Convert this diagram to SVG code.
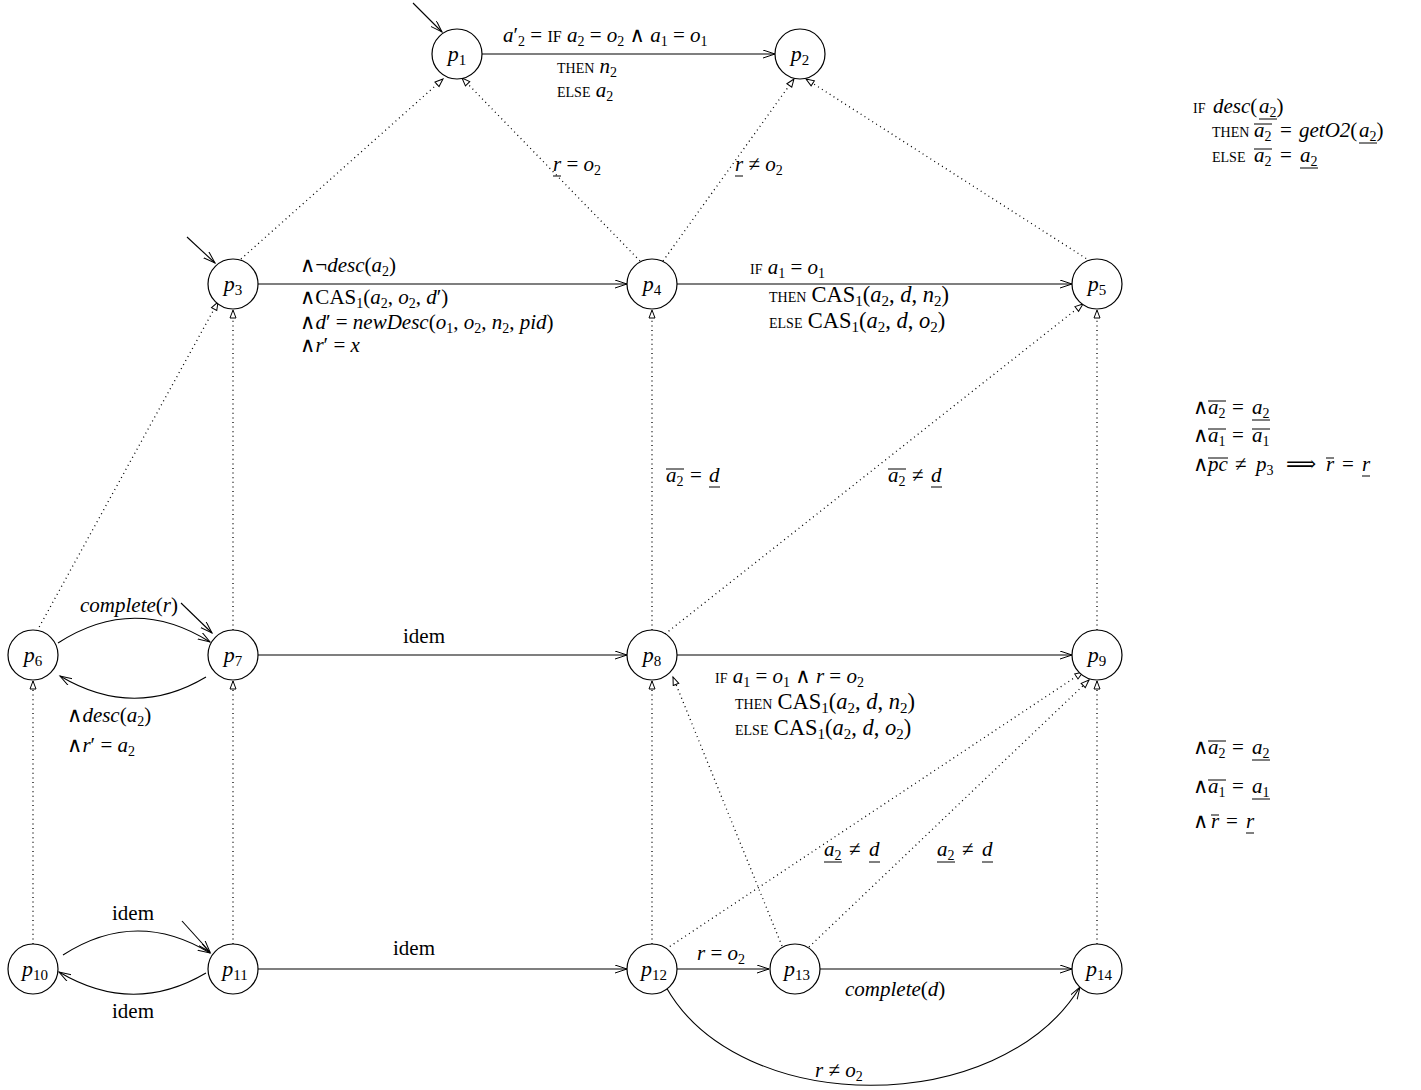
<svg xmlns="http://www.w3.org/2000/svg" width="1421" height="1090" viewBox="0 0 1421 1090">
<style>
text{font-family:"Liberation Serif","DejaVu Serif",serif;font-size:21px;fill:#000}
.i{font-style:italic}
.sb{font-size:14px;baseline-shift:-4px;font-style:normal}
.sc{font-size:14px}
.sc1{font-size:16px}
.big{font-size:22.5px}
.big .sb{font-size:15px;baseline-shift:-4px}
.nl{font-size:22px}
.nl .sb{font-size:15px}
.n{fill:#fff;stroke:#000;stroke-width:1.2}
.e{fill:none;stroke:#000;stroke-width:1.1;marker-end:url(#v)}
.d{fill:none;stroke:#000;stroke-width:1.3;stroke-dasharray:1 3.6;marker-end:url(#tri)}
.ln{stroke:#000;stroke-width:1}
</style>
<defs>
<marker id="v" markerWidth="14" markerHeight="10" refX="12" refY="4" orient="auto" markerUnits="userSpaceOnUse"><path d="M0,0 L12,4 L0,8" fill="none" stroke="#000" stroke-width="1"/></marker>
<marker id="tri" markerWidth="12" markerHeight="10" refX="9" refY="4" orient="auto" markerUnits="userSpaceOnUse"><path d="M1,1 L9,4 L1,7 Z" fill="#fff" stroke="#000" stroke-width="1"/></marker>
</defs>
<rect width="1421" height="1090" fill="#fff"/>
<g id="connectors">
<path class="e" d="M482,54 L775,54"/>
<path class="e" d="M258,284 L627,284"/>
<path class="e" d="M677,284 L1072,284"/>
<path class="e" d="M258,655 L627,655"/>
<path class="e" d="M677,655 L1072,655"/>
<path class="e" d="M258,969 L627,969"/>
<path class="e" d="M677,969 L769,969"/>
<path class="e" d="M820,969 L1072,969"/>
<path class="e" d="M666,987 C740,1118 1000,1118 1080,987"/>
<path class="e" d="M58,643 Q134,594 210,642"/>
<path class="e" d="M206,677 Q134,720 60,676"/>
<path class="e" d="M63,955 Q136,908 210,953"/>
<path class="e" d="M206,973 Q133,1016 59,972"/>
<path class="e" d="M413,3 L442,32"/>
<path class="e" d="M187,237 L215,263"/>
<path class="e" d="M181,603 L212,633"/>
<path class="e" d="M182,921 L210,952"/>
<path class="d" d="M241,259 L443,79"/>
<path class="d" d="M640,261 L462,78"/>
<path class="d" d="M663,261 L794,79"/>
<path class="d" d="M1090,261 L806,79"/>
<path class="d" d="M37,631 L218,302"/>
<path class="d" d="M233,630 L233,310"/>
<path class="d" d="M652,630 L652,310"/>
<path class="d" d="M665,634 L1083,304"/>
<path class="d" d="M1097,630 L1097,310"/>
<path class="d" d="M33,944 L33,681"/>
<path class="d" d="M233,944 L233,681"/>
<path class="d" d="M652,944 L652,681"/>
<path class="d" d="M666,949 L1083,672"/>
<path class="d" d="M782,946 L673,677"/>
<path class="d" d="M809,947 L1089,680"/>
<path class="d" d="M1097,944 L1097,681"/>
</g>
<g id="p1"><circle class="n" cx="457" cy="54" r="25"/><text class="nl" x="457" y="61" text-anchor="middle"><tspan class="i">p</tspan><tspan class="sb">1</tspan></text></g>
<g id="p2"><circle class="n" cx="800" cy="54" r="25"/><text class="nl" x="800" y="61" text-anchor="middle"><tspan class="i">p</tspan><tspan class="sb">2</tspan></text></g>
<g id="p3"><circle class="n" cx="233" cy="284" r="25"/><text class="nl" x="233" y="291" text-anchor="middle"><tspan class="i">p</tspan><tspan class="sb">3</tspan></text></g>
<g id="p4"><circle class="n" cx="652" cy="284" r="25"/><text class="nl" x="652" y="291" text-anchor="middle"><tspan class="i">p</tspan><tspan class="sb">4</tspan></text></g>
<g id="p5"><circle class="n" cx="1097" cy="284" r="25"/><text class="nl" x="1097" y="291" text-anchor="middle"><tspan class="i">p</tspan><tspan class="sb">5</tspan></text></g>
<g id="p6"><circle class="n" cx="33" cy="655" r="25"/><text class="nl" x="33" y="662" text-anchor="middle"><tspan class="i">p</tspan><tspan class="sb">6</tspan></text></g>
<g id="p7"><circle class="n" cx="233" cy="655" r="25"/><text class="nl" x="233" y="662" text-anchor="middle"><tspan class="i">p</tspan><tspan class="sb">7</tspan></text></g>
<g id="p8"><circle class="n" cx="652" cy="655" r="25"/><text class="nl" x="652" y="662" text-anchor="middle"><tspan class="i">p</tspan><tspan class="sb">8</tspan></text></g>
<g id="p9"><circle class="n" cx="1097" cy="655" r="25"/><text class="nl" x="1097" y="662" text-anchor="middle"><tspan class="i">p</tspan><tspan class="sb">9</tspan></text></g>
<g id="p10"><circle class="n" cx="33" cy="969" r="25"/><text class="nl" x="35" y="976" text-anchor="middle"><tspan class="i">p</tspan><tspan class="sb">10</tspan></text></g>
<g id="p11"><circle class="n" cx="233" cy="969" r="25"/><text class="nl" x="235" y="976" text-anchor="middle"><tspan class="i">p</tspan><tspan class="sb">11</tspan></text></g>
<g id="p12"><circle class="n" cx="652" cy="969" r="25"/><text class="nl" x="654" y="976" text-anchor="middle"><tspan class="i">p</tspan><tspan class="sb">12</tspan></text></g>
<g id="p13"><circle class="n" cx="795" cy="969" r="25"/><text class="nl" x="797" y="976" text-anchor="middle"><tspan class="i">p</tspan><tspan class="sb">13</tspan></text></g>
<g id="p14"><circle class="n" cx="1097" cy="969" r="25"/><text class="nl" x="1099" y="976" text-anchor="middle"><tspan class="i">p</tspan><tspan class="sb">14</tspan></text></g>
<g id="labels">
<text x="503" y="42"><tspan class="i">a</tspan>′<tspan class="sb">2</tspan> = <tspan class="sc1">IF</tspan> <tspan class="i">a</tspan><tspan class="sb">2</tspan> = <tspan class="i">o</tspan><tspan class="sb">2</tspan> ∧ <tspan class="i">a</tspan><tspan class="sb">1</tspan> = <tspan class="i">o</tspan><tspan class="sb">1</tspan></text>
<text x="557" y="73"><tspan class="sc">THEN</tspan> <tspan class="i">n</tspan><tspan class="sb">2</tspan></text>
<text x="557" y="97"><tspan class="sc">ELSE</tspan> <tspan class="i">a</tspan><tspan class="sb">2</tspan></text>
<text x="553" y="171"><tspan class="i">r</tspan> = <tspan class="i">o</tspan><tspan class="sb">2</tspan></text>
<line class="ln" x1="553" y1="176" x2="561" y2="176"/>
<text x="735" y="171"><tspan class="i">r</tspan> ≠ <tspan class="i">o</tspan><tspan class="sb">2</tspan></text>
<line class="ln" x1="735" y1="176" x2="743" y2="176"/>
<text x="300" y="272">∧¬<tspan class="i">desc</tspan>(<tspan class="i">a</tspan><tspan class="sb">2</tspan>)</text>
<text x="300" y="304">∧CAS<tspan class="sb">1</tspan>(<tspan class="i">a</tspan><tspan class="sb">2</tspan>, <tspan class="i">o</tspan><tspan class="sb">2</tspan>, <tspan class="i">d</tspan>′)</text>
<text x="300" y="329">∧<tspan class="i">d</tspan>′ = <tspan class="i">newDesc</tspan>(<tspan class="i">o</tspan><tspan class="sb">1</tspan>, <tspan class="i">o</tspan><tspan class="sb">2</tspan>, <tspan class="i">n</tspan><tspan class="sb">2</tspan>, <tspan class="i">pid</tspan>)</text>
<text x="300" y="352">∧<tspan class="i">r</tspan>′ = <tspan class="i">x</tspan></text>
<text x="750" y="274"><tspan class="sc">IF</tspan> <tspan class="i">a</tspan><tspan class="sb">1</tspan> = <tspan class="i">o</tspan><tspan class="sb">1</tspan></text>
<text x="769" y="302"><tspan class="sc">THEN</tspan> <tspan class="big">CAS<tspan class="sb">1</tspan>(<tspan class="i">a</tspan><tspan class="sb">2</tspan>, <tspan class="i">d</tspan>, <tspan class="i">n</tspan><tspan class="sb">2</tspan>)</tspan></text>
<text x="769" y="328"><tspan class="sc">ELSE</tspan> <tspan class="big">CAS<tspan class="sb">1</tspan>(<tspan class="i">a</tspan><tspan class="sb">2</tspan>, <tspan class="i">d</tspan>, <tspan class="i">o</tspan><tspan class="sb">2</tspan>)</tspan></text>
<text y="482"><tspan x="666" class="i">a</tspan><tspan class="sb">2</tspan><tspan x="690">=</tspan><tspan x="709" class="i">d</tspan></text>
<line class="ln" x1="666" y1="469" x2="684" y2="469"/><line class="ln" x1="709" y1="487" x2="720" y2="487"/>
<text y="482"><tspan x="888" class="i">a</tspan><tspan class="sb">2</tspan><tspan x="912">≠</tspan><tspan x="931" class="i">d</tspan></text>
<line class="ln" x1="888" y1="469" x2="906" y2="469"/><line class="ln" x1="931" y1="487" x2="942" y2="487"/>
<text x="80" y="612"><tspan class="i">complete</tspan>(<tspan class="i">r</tspan>)</text>
<text x="403" y="643">idem</text>
<text x="715" y="683"><tspan class="sc">IF</tspan> <tspan class="i">a</tspan><tspan class="sb">1</tspan> = <tspan class="i">o</tspan><tspan class="sb">1</tspan> ∧ <tspan class="i">r</tspan> = <tspan class="i">o</tspan><tspan class="sb">2</tspan></text>
<text x="735" y="709"><tspan class="sc">THEN</tspan> <tspan class="big">CAS<tspan class="sb">1</tspan>(<tspan class="i">a</tspan><tspan class="sb">2</tspan>, <tspan class="i">d</tspan>, <tspan class="i">n</tspan><tspan class="sb">2</tspan>)</tspan></text>
<text x="735" y="735"><tspan class="sc">ELSE</tspan> <tspan class="big">CAS<tspan class="sb">1</tspan>(<tspan class="i">a</tspan><tspan class="sb">2</tspan>, <tspan class="i">d</tspan>, <tspan class="i">o</tspan><tspan class="sb">2</tspan>)</tspan></text>
<text x="67" y="722">∧<tspan class="i">desc</tspan>(<tspan class="i">a</tspan><tspan class="sb">2</tspan>)</text>
<text x="67" y="752">∧<tspan class="i">r</tspan>′ = <tspan class="i">a</tspan><tspan class="sb">2</tspan></text>
<text y="856"><tspan x="824" class="i">a</tspan><tspan class="sb">2</tspan><tspan x="849">≠</tspan><tspan x="869" class="i">d</tspan></text>
<line class="ln" x1="824" y1="862" x2="842" y2="862"/><line class="ln" x1="869" y1="862" x2="880" y2="862"/>
<text y="856"><tspan x="937" class="i">a</tspan><tspan class="sb">2</tspan><tspan x="962">≠</tspan><tspan x="982" class="i">d</tspan></text>
<line class="ln" x1="937" y1="862" x2="955" y2="862"/><line class="ln" x1="982" y1="862" x2="993" y2="862"/>
<text x="112" y="920">idem</text>
<text x="112" y="1018">idem</text>
<text x="393" y="955">idem</text>
<text x="697" y="960"><tspan class="i">r</tspan> = <tspan class="i">o</tspan><tspan class="sb">2</tspan></text>
<text x="845" y="996"><tspan class="i">complete</tspan>(<tspan class="i">d</tspan>)</text>
<text x="815" y="1077"><tspan class="i">r</tspan> ≠ <tspan class="i">o</tspan><tspan class="sb">2</tspan></text>
</g>
<g id="notes">
<text y="113"><tspan x="1193" class="sc">IF</tspan><tspan x="1213" class="i">desc</tspan>(<tspan x="1259" class="i">a</tspan><tspan class="sb">2</tspan>)</text>
<line class="ln" x1="1259" y1="119" x2="1277" y2="119"/>
<text y="137"><tspan x="1212" class="sc">THEN</tspan><tspan x="1254" class="i">a</tspan><tspan class="sb">2</tspan><tspan x="1280">=</tspan><tspan x="1299" class="i">getO2</tspan>(<tspan x="1359" class="i">a</tspan><tspan class="sb">2</tspan>)</text>
<line class="ln" x1="1254" y1="124" x2="1272" y2="124"/><line class="ln" x1="1359" y1="143" x2="1377" y2="143"/>
<text y="162"><tspan x="1212" class="sc">ELSE</tspan><tspan x="1254" class="i">a</tspan><tspan class="sb">2</tspan><tspan x="1280">=</tspan><tspan x="1300" class="i">a</tspan><tspan class="sb">2</tspan></text>
<line class="ln" x1="1254" y1="149" x2="1272" y2="149"/><line class="ln" x1="1300" y1="168" x2="1318" y2="168"/>
<text y="414"><tspan x="1193">∧</tspan><tspan x="1208" class="i">a</tspan><tspan class="sb">2</tspan><tspan x="1232">=</tspan><tspan x="1252" class="i">a</tspan><tspan class="sb">2</tspan></text>
<line class="ln" x1="1208" y1="401" x2="1226" y2="401"/><line class="ln" x1="1252" y1="420" x2="1270" y2="420"/>
<text y="442"><tspan x="1193">∧</tspan><tspan x="1208" class="i">a</tspan><tspan class="sb">1</tspan><tspan x="1232">=</tspan><tspan x="1252" class="i">a</tspan><tspan class="sb">1</tspan></text>
<line class="ln" x1="1208" y1="429" x2="1226" y2="429"/><line class="ln" x1="1252" y1="429" x2="1270" y2="429"/>
<text y="471"><tspan x="1193">∧</tspan><tspan x="1208" class="i">pc</tspan><tspan x="1235">≠</tspan><tspan x="1256" class="i">p</tspan><tspan class="sb">3</tspan><tspan x="1286">⟹</tspan><tspan x="1326" class="i">r</tspan><tspan x="1342">=</tspan><tspan x="1362" class="i">r</tspan></text>
<line class="ln" x1="1208" y1="458" x2="1228" y2="458"/><line class="ln" x1="1326" y1="458" x2="1334" y2="458"/><line class="ln" x1="1362" y1="476" x2="1370" y2="476"/>
<text y="754"><tspan x="1193">∧</tspan><tspan x="1208" class="i">a</tspan><tspan class="sb">2</tspan><tspan x="1232">=</tspan><tspan x="1252" class="i">a</tspan><tspan class="sb">2</tspan></text>
<line class="ln" x1="1208" y1="741" x2="1226" y2="741"/><line class="ln" x1="1252" y1="760" x2="1270" y2="760"/>
<text y="793"><tspan x="1193">∧</tspan><tspan x="1208" class="i">a</tspan><tspan class="sb">1</tspan><tspan x="1232">=</tspan><tspan x="1252" class="i">a</tspan><tspan class="sb">1</tspan></text>
<line class="ln" x1="1208" y1="780" x2="1226" y2="780"/><line class="ln" x1="1252" y1="799" x2="1270" y2="799"/>
<text y="828"><tspan x="1193">∧</tspan><tspan x="1211" class="i">r</tspan><tspan x="1226">=</tspan><tspan x="1246" class="i">r</tspan></text>
<line class="ln" x1="1211" y1="815" x2="1219" y2="815"/><line class="ln" x1="1246" y1="833" x2="1254" y2="833"/>
</g>
</svg>
